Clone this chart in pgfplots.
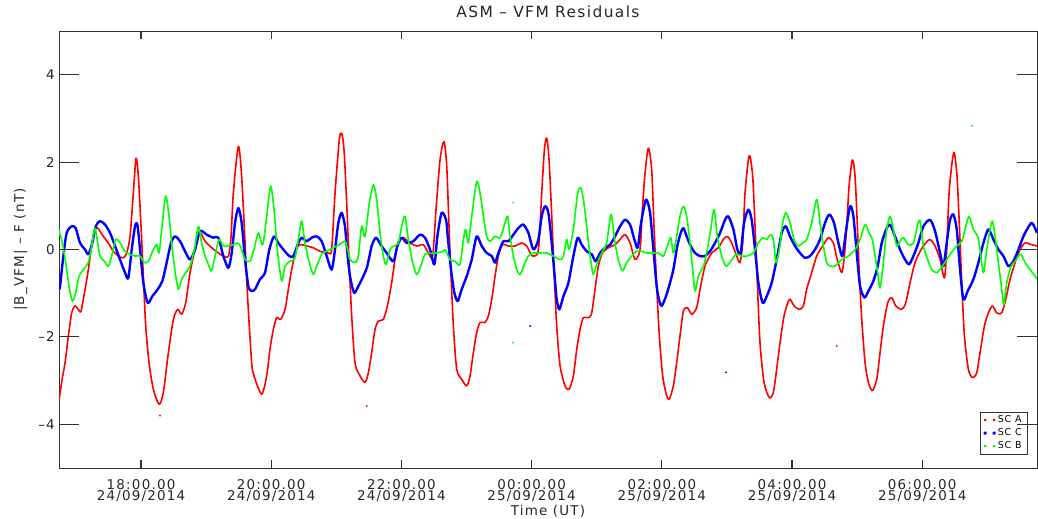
\documentclass[border=0pt]{standalone}
\usepackage{pgfplots}
\pgfplotsset{compat=1.18}
\usepackage{fontspec}
\setmainfont{DejaVu Sans}[LetterSpace=9]

\begin{document}
\begin{tikzpicture}
\begin{axis}[
  name=ax,
  scale only axis, width=978bp, height=437bp,
  xmin=16.74, xmax=31.763, ymin=-5, ymax=5,
  xtick={18,20,22,24,26,28,30},
  xticklabels={{18:00.00\\24/09/2014},{20:00.00\\24/09/2014},{22:00.00\\24/09/2014},
               {00:00.00\\25/09/2014},{02:00.00\\25/09/2014},{04:00.00\\25/09/2014},
               {06:00.00\\25/09/2014}},
  ytick={-4,-2,0,2,4},
  yticklabels={–4,–2,0,2,4},
  minor tick num=0,
  tick style={draw=none},
  axis line style={black!80, line width=0.8bp},
  tick label style={font=\fontsize{13.5}{11.5}\selectfont, text=black!85},
  xticklabel style={align=center, inner sep=0pt, anchor=north, yshift=-11bp},
  yticklabel style={inner sep=0pt, anchor=east, xshift=-4bp},
  title={ASM – VFM Residuals},
  title style={font=\fontsize{15.5}{16}\selectfont, text=black!85,
    at={(axis description cs:0.5,1.0297)}, anchor=center},
  xlabel={Time (UT)},
  xlabel style={font=\fontsize{13.5}{14}\selectfont, text=black!85,
    at={(axis description cs:0.5,-0.0984)}, anchor=center},
  ylabel={|B\_VFM| – F (nT)},
  ylabel style={font=\fontsize{13.5}{14}\selectfont, text=black!85,
    at={(axis description cs:-0.0394,0.5)}, anchor=center},
  legend style={at={(axis description cs:1,0)}, anchor=south east,
    xshift=-10bp, yshift=14bp, draw=black!80, fill=white,
    font=\fontsize{9.5}{10}\selectfont, inner xsep=3bp, inner ysep=1.5bp,
    row sep=0.5bp},
  legend cell align=left,
  legend image code/.code={\fill (0.5bp,0bp) circle (0.6bp); \fill (9.5bp,0bp) circle (0.6bp);},
]
% SC A
\addplot[color=red, line width=1.6bp, line join=round, smooth, tension=0.45] coordinates {
(16.740,-3.45) (16.790,-2.95) (16.833,-2.59) (16.884,-1.98) (16.935,-1.45) (16.986,-1.29)
(17.037,-1.37) (17.078,-1.41) (17.140,-0.91) (17.191,-0.46) (17.242,0.08) (17.293,0.46)
(17.334,0.49) (17.421,0.30) (17.498,0.15) (17.575,-0.04) (17.652,-0.15) (17.729,-0.19)
(17.780,-0.08) (17.831,0.30) (17.882,1.29) (17.923,2.09) (17.959,1.67) (18.000,0.53)
(18.036,-0.61) (18.072,-1.75) (18.123,-2.59) (18.189,-3.20) (18.277,-3.54) (18.343,-3.27)
(18.420,-2.36) (18.497,-1.60) (18.563,-1.37) (18.625,-1.48) (18.686,-1.22) (18.753,-0.53)
(18.830,0.00) (18.906,0.38) (18.983,0.19) (19.086,0.04) (19.188,-0.08) (19.265,-0.15)
(19.342,-0.15) (19.383,0.30) (19.418,1.29) (19.495,2.36) (19.546,1.67) (19.598,0.15)
(19.639,-1.14) (19.700,-2.59) (19.735,-2.89) (19.853,-3.31) (19.930,-2.89) (19.981,-2.28)
(20.032,-1.83) (20.084,-1.56) (20.145,-1.60) (20.212,-1.37) (20.263,-0.91) (20.314,-0.46)
(20.381,0.00) (20.442,0.11) (20.544,0.08) (20.647,0.04) (20.749,-0.04) (20.877,-0.08)
(20.928,0.00) (20.980,1.29) (21.046,2.51) (21.082,2.66) (21.118,2.28) (21.159,1.07)
(21.195,-0.23) (21.236,-1.52) (21.287,-2.59) (21.364,-2.89) (21.441,-3.04) (21.492,-2.82)
(21.543,-2.36) (21.594,-1.83) (21.645,-1.64) (21.722,-1.60) (21.784,-1.29) (21.850,-0.76)
(21.901,-0.23) (21.953,0.19) (22.029,0.27) (22.132,0.15) (22.234,0.08) (22.337,0.11)
(22.413,-0.08) (22.480,-0.15) (22.531,0.91) (22.593,2.05) (22.654,2.47) (22.696,1.90)
(22.731,0.53) (22.762,-0.61) (22.798,-1.75) (22.849,-2.74) (22.926,-2.97) (23.003,-3.12)
(23.054,-2.89) (23.105,-2.36) (23.156,-1.90) (23.208,-1.67) (23.284,-1.67) (23.336,-1.52)
(23.387,-1.14) (23.438,-0.61) (23.489,-0.15) (23.551,0.11) (23.643,0.08) (23.745,0.08)
(23.848,0.15) (23.924,0.08) (24.012,-0.15) (24.104,0.00) (24.155,1.29) (24.196,2.28)
(24.232,2.55) (24.268,2.05) (24.309,0.76) (24.349,-0.61) (24.385,-1.75) (24.437,-2.66)
(24.513,-3.12) (24.575,-3.20) (24.641,-2.89) (24.693,-2.28) (24.744,-1.83) (24.795,-1.56)
(24.872,-1.56) (24.923,-1.45) (24.974,-0.91) (25.025,-0.38) (25.087,-0.08) (25.179,0.04)
(25.281,0.11) (25.358,0.23) (25.435,0.34) (25.512,0.15) (25.589,-0.23) (25.665,0.00)
(25.701,0.91) (25.742,1.75) (25.793,2.32) (25.844,1.83) (25.880,0.53) (25.921,-0.84)
(25.962,-1.98) (26.013,-2.89) (26.075,-3.35) (26.116,-3.42) (26.177,-3.12) (26.228,-2.59)
(26.279,-1.98) (26.331,-1.41) (26.392,-1.33) (26.459,-1.48) (26.535,-1.33) (26.587,-0.91)
(26.663,-0.38) (26.766,-0.08) (26.868,0.04) (26.945,0.23) (27.007,0.30) (27.073,0.15)
(27.150,-0.15) (27.201,-0.30) (27.242,0.15) (27.278,1.29) (27.329,2.05) (27.355,2.13)
(27.396,1.67) (27.432,0.53) (27.467,-0.76) (27.508,-2.13) (27.570,-3.04) (27.652,-3.39)
(27.713,-3.27) (27.764,-2.74) (27.816,-2.13) (27.877,-1.52) (27.959,-1.14) (28.031,-1.29)
(28.113,-1.37) (28.174,-1.29) (28.225,-0.91) (28.302,-0.53) (28.379,-0.15) (28.471,0.08)
(28.558,0.27) (28.635,0.15) (28.690,-0.20) (28.763,-0.53) (28.804,-0.15) (28.840,0.53)
(28.876,1.45) (28.927,2.05) (28.968,1.67) (29.004,0.53) (29.035,-0.61) (29.071,-1.60)
(29.122,-2.59) (29.173,-3.04) (29.234,-3.23) (29.301,-2.97) (29.352,-2.36) (29.403,-1.75)
(29.470,-1.22) (29.531,-1.10) (29.593,-1.29) (29.685,-1.37) (29.747,-1.22) (29.813,-0.76)
(29.890,-0.30) (29.982,0.00) (30.054,0.15) (30.120,0.23) (30.197,0.08) (30.274,-0.23)
(30.340,-0.65) (30.376,0.00) (30.412,1.29) (30.463,2.05) (30.494,2.21) (30.535,1.67)
(30.571,0.53) (30.607,-0.76) (30.648,-1.98) (30.709,-2.74) (30.771,-2.93) (30.837,-2.82)
(30.888,-2.36) (30.955,-1.75) (31.016,-1.45) (31.078,-1.29) (31.144,-1.45) (31.221,-1.45)
(31.283,-1.14) (31.349,-0.68) (31.426,-0.30) (31.503,0.00) (31.580,0.15) (31.682,0.11)
(31.763,0.08)
};
\addlegendentry{SC A}
% SC C
\addplot[color=blue, line width=2.4bp, line join=round, smooth, tension=0.45] coordinates {
(16.740,-0.90) (16.756,-0.84) (16.807,-0.15) (16.858,0.38) (16.935,0.53) (16.996,0.49)
(17.063,0.15) (17.140,0.00) (17.191,-0.11) (17.252,0.15) (17.304,0.53) (17.370,0.65)
(17.447,0.57) (17.524,0.38) (17.601,0.08) (17.677,-0.23) (17.754,-0.53) (17.805,-0.65)
(17.857,0.00) (17.908,0.53) (17.944,0.57) (17.985,0.00) (18.036,-0.76) (18.102,-1.22)
(18.174,-1.07) (18.256,-0.91) (18.328,-0.72) (18.394,-0.30) (18.461,0.15) (18.522,0.30)
(18.599,0.19) (18.676,-0.04) (18.753,-0.23) (18.830,0.00) (18.906,0.42) (19.009,0.34)
(19.111,0.27) (19.188,0.27) (19.265,-0.15) (19.342,-0.42) (19.393,-0.08) (19.444,0.61)
(19.495,0.95) (19.546,0.61) (19.598,-0.23) (19.649,-0.84) (19.700,-0.95) (19.751,-0.91)
(19.828,-0.68) (19.904,-0.53) (19.971,0.00) (20.043,0.30) (20.109,0.15) (20.186,0.00)
(20.278,-0.15) (20.340,-0.15) (20.416,0.15) (20.468,0.27) (20.544,0.19) (20.621,0.27)
(20.698,0.30) (20.775,0.19) (20.852,-0.15) (20.928,-0.46) (20.980,0.00) (21.031,0.61)
(21.082,0.84) (21.133,0.53) (21.169,-0.08) (21.210,-0.61) (21.272,-0.99) (21.338,-0.84)
(21.415,-0.61) (21.476,-0.38) (21.543,0.08) (21.609,0.27) (21.681,0.11) (21.773,-0.08)
(21.876,-0.27) (21.937,0.08) (22.004,0.27) (22.081,0.15) (22.183,0.19) (22.285,0.34)
(22.362,0.27) (22.439,0.00) (22.506,-0.34) (22.552,0.30) (22.618,0.84) (22.685,0.68)
(22.711,0.30) (22.762,-0.46) (22.813,-0.99) (22.865,-1.18) (22.926,-0.91) (23.003,-0.61)
(23.080,-0.23) (23.156,0.30) (23.233,0.08) (23.310,-0.08) (23.387,-0.15) (23.438,-0.30)
(23.489,-0.08) (23.566,0.19) (23.643,0.19) (23.720,0.34) (23.796,0.49) (23.873,0.57)
(23.950,0.38) (24.027,0.00) (24.104,0.23) (24.155,0.76) (24.206,0.99) (24.257,0.84)
(24.309,0.15) (24.349,-0.53) (24.385,-1.14) (24.426,-1.37) (24.488,-1.07) (24.565,-0.76)
(24.641,-0.15) (24.708,0.27) (24.769,0.11) (24.846,-0.04) (24.923,-0.11) (24.984,-0.27)
(25.051,-0.08) (25.128,0.04) (25.205,0.11) (25.281,0.30) (25.358,0.53) (25.435,0.68)
(25.512,0.57) (25.578,0.23) (25.630,0.04) (25.681,0.61) (25.757,1.14) (25.819,0.84)
(25.870,0.00) (25.921,-0.84) (25.962,-1.18) (25.998,-1.29) (26.064,-1.07) (26.126,-0.76)
(26.177,-0.46) (26.238,0.08) (26.290,0.38) (26.331,0.49) (26.382,0.30) (26.443,0.08)
(26.510,-0.08) (26.587,-0.15) (26.663,-0.15) (26.740,-0.04) (26.817,0.15) (26.894,0.38)
(26.971,0.68) (27.022,0.76) (27.099,0.46) (27.160,0.00) (27.211,-0.08) (27.263,0.61)
(27.329,0.91) (27.380,0.68) (27.432,0.00) (27.483,-0.76) (27.549,-1.22) (27.611,-1.07)
(27.688,-0.76) (27.764,-0.23) (27.841,0.38) (27.903,0.53) (27.969,0.30) (28.046,0.08)
(28.123,-0.08) (28.200,-0.19) (28.276,-0.15) (28.353,0.00) (28.430,0.23) (28.507,0.61)
(28.573,0.80) (28.645,0.61) (28.712,0.15) (28.774,-0.15) (28.825,0.38) (28.891,0.99)
(28.943,0.76) (28.994,-0.08) (29.045,-0.84) (29.112,-1.10) (29.173,-0.95) (29.250,-0.72)
(29.316,-0.38) (29.378,0.15) (29.455,0.49) (29.506,0.57) (29.572,0.34) (29.659,0.00)
(29.736,-0.23) (29.798,-0.34) (29.864,-0.15) (29.941,0.15) (30.018,0.53) (30.120,0.68)
(30.197,0.42) (30.274,-0.08) (30.325,-0.38) (30.376,0.15) (30.428,0.68) (30.479,0.80)
(30.530,0.46) (30.581,-0.46) (30.632,-1.14) (30.699,-0.95) (30.786,-0.68) (30.863,-0.30)
(30.940,0.15) (31.016,0.46) (31.093,0.23) (31.170,0.00) (31.247,-0.15) (31.324,-0.38)
(31.400,-0.27) (31.477,0.00) (31.554,0.30) (31.621,0.49) (31.682,0.61) (31.733,0.49)
(31.763,0.38)
};
\addlegendentry{SC C}
% SC B
\addplot[color=green, line width=1.6bp, line join=round, smooth, tension=0.45] coordinates {
(16.740,0.45) (16.756,0.34) (16.792,0.15) (16.843,-0.30) (16.894,-0.84) (16.945,-1.18)
(16.996,-0.99) (17.048,-0.61) (17.114,-0.46) (17.191,-0.30) (17.242,0.08) (17.293,0.49)
(17.334,0.15) (17.370,-0.15) (17.437,-0.27) (17.498,-0.38) (17.549,-0.15) (17.611,0.23)
(17.677,0.15) (17.754,-0.04) (17.831,-0.11) (17.908,-0.15) (17.985,-0.15) (18.051,-0.30)
(18.113,-0.27) (18.189,0.00) (18.241,0.11) (18.277,-0.08) (18.318,0.46) (18.379,1.22)
(18.430,0.76) (18.481,0.00) (18.533,-0.61) (18.574,-0.91) (18.625,-0.68) (18.686,-0.53)
(18.753,-0.38) (18.819,0.00) (18.881,0.53) (18.932,0.15) (18.983,-0.15) (19.045,-0.38)
(19.086,-0.49) (19.137,-0.15) (19.198,0.23) (19.265,0.08) (19.342,0.08) (19.418,0.11)
(19.485,0.15) (19.536,0.04) (19.598,-0.23) (19.674,-0.27) (19.735,0.00) (19.802,0.38)
(19.869,0.11) (19.930,0.76) (19.991,1.45) (20.043,0.91) (20.094,0.00) (20.160,-0.72)
(20.212,-0.38) (20.288,-0.27) (20.365,-0.19) (20.432,0.38) (20.468,0.65) (20.519,0.15)
(20.585,-0.30) (20.647,-0.57) (20.698,-0.38) (20.775,-0.11) (20.852,-0.04) (20.954,0.04)
(21.046,0.11) (21.133,0.19) (21.174,0.00) (21.210,-0.23) (21.287,-0.30) (21.338,-0.15)
(21.389,0.53) (21.441,0.30) (21.507,1.07) (21.569,1.48) (21.620,1.14) (21.671,0.38)
(21.722,-0.15) (21.763,-0.34) (21.825,0.00) (21.886,0.08) (21.953,0.15) (22.004,0.53)
(22.055,0.76) (22.106,0.23) (22.173,-0.30) (22.234,-0.57) (22.296,-0.38) (22.362,-0.11)
(22.439,-0.09) (22.541,-0.08) (22.644,-0.04) (22.670,0.00) (22.747,-0.23) (22.824,-0.27)
(22.900,-0.34) (22.952,0.23) (22.987,0.46) (23.028,0.15) (23.080,0.76) (23.156,1.56)
(23.208,1.29) (23.259,0.76) (23.310,0.30) (23.361,0.19) (23.438,0.30) (23.515,0.27)
(23.592,0.61) (23.633,0.76) (23.668,0.30) (23.720,-0.15) (23.771,-0.46) (23.822,-0.57)
(23.889,-0.34) (23.950,-0.15) (24.027,-0.08) (24.129,-0.08) (24.232,-0.08) (24.334,-0.15)
(24.437,-0.23) (24.488,-0.15) (24.539,0.23) (24.575,0.00) (24.641,0.46) (24.708,1.29)
(24.759,1.41) (24.810,0.99) (24.862,0.30) (24.913,-0.30) (24.949,-0.57) (25.000,-0.34)
(25.077,-0.08) (25.153,0.15) (25.220,0.80) (25.281,0.15) (25.343,-0.30) (25.399,-0.49)
(25.461,-0.30) (25.537,-0.15) (25.614,-0.04) (25.691,-0.04) (25.767,-0.08) (25.870,-0.08)
(25.947,-0.08) (26.023,-0.15) (26.085,0.08) (26.136,0.27) (26.177,-0.08) (26.228,0.30)
(26.279,0.76) (26.331,0.99) (26.382,0.76) (26.433,0.15) (26.474,-0.46) (26.510,-0.95)
(26.561,-0.61) (26.638,-0.38) (26.689,-0.08) (26.751,0.46) (26.802,0.91) (26.853,0.30)
(26.919,-0.15) (26.986,-0.38) (27.058,-0.27) (27.140,-0.11) (27.227,-0.15) (27.304,-0.15)
(27.406,-0.08) (27.483,0.15) (27.549,0.27) (27.611,0.23) (27.672,0.34) (27.713,0.23)
(27.754,-0.30) (27.805,0.00) (27.857,0.61) (27.908,0.84) (27.969,0.61) (28.031,0.23)
(28.097,0.08) (28.164,0.15) (28.225,0.23) (28.302,0.61) (28.379,1.14) (28.430,0.61)
(28.481,0.08) (28.532,-0.30) (28.584,-0.38) (28.660,-0.38) (28.763,-0.23) (28.866,-0.15)
(28.968,0.00) (29.045,0.23) (29.122,0.57) (29.183,0.38) (29.234,0.23) (29.275,-0.15)
(29.316,-0.53) (29.352,-0.88) (29.403,-0.30) (29.455,0.46) (29.506,0.76) (29.557,0.46)
(29.608,0.08) (29.659,0.19) (29.711,0.27) (29.787,0.11) (29.864,0.15) (29.931,0.57)
(29.967,0.65) (30.018,0.08) (30.084,-0.23) (30.146,-0.46) (30.223,-0.53) (30.289,-0.42)
(30.361,-0.27) (30.443,-0.08) (30.530,0.08) (30.607,0.19) (30.658,0.46) (30.719,0.76)
(30.786,0.46) (30.853,0.30) (30.888,0.00) (30.940,-0.53) (30.991,0.00) (31.042,0.46)
(31.078,0.65) (31.119,0.30) (31.170,-0.30) (31.221,-0.91) (31.252,-1.26) (31.298,-0.76)
(31.365,-0.38) (31.426,-0.27) (31.477,-0.15) (31.518,-0.11) (31.580,-0.30) (31.657,-0.46)
(31.733,-0.61) (31.763,-0.68)
};
\addlegendentry{SC B}
% isolated outlying samples
\addplot[only marks, mark=*, mark size=0.7bp, color=red, forget plot] coordinates {
(21.467,-3.58) (28.686,-2.21) (18.292,-3.80)
};
\addplot[only marks, mark=*, mark size=0.7bp, color=blue, forget plot] coordinates {
(23.976,-1.75) (26.986,-2.81)
};
\addplot[only marks, mark=*, mark size=0.7bp, color=green, forget plot] coordinates {
(23.714,1.07) (23.714,-2.13) (30.765,2.83)
};
\end{axis}
% inward tick marks, placed from the corners of the axis box:
% short ones on the time axis, long ones on the value axis
\foreach \t in {18,20,22,24,26,28,30} {
  \pgfmathsetmacro{\dx}{(\t-16.74)/(31.763-16.74)*978}
  \draw[black!80, line width=1.1bp] ([xshift=\dx bp]ax.south west) -- ++(0pt,8bp);
  \draw[black!80, line width=1.1bp] ([xshift=\dx bp]ax.north west) -- ++(0pt,-8bp);
}
\foreach \v in {-4,-2,0,2,4} {
  \pgfmathsetmacro{\dy}{(\v+5)/10*437}
  \draw[black!80, line width=1.1bp] ([yshift=\dy bp]ax.south west) -- ++(20bp,0pt);
  \draw[black!80, line width=1.1bp] ([yshift=\dy bp]ax.south east) -- ++(-20bp,0pt);
}
\path (ax.south west) ++(-59bp,-50bp) coordinate (bl);
\path (ax.north east) ++(1bp,31bp) coordinate (tr);
\pgfresetboundingbox
\useasboundingbox (bl) rectangle (tr);
\end{tikzpicture}
\end{document}
